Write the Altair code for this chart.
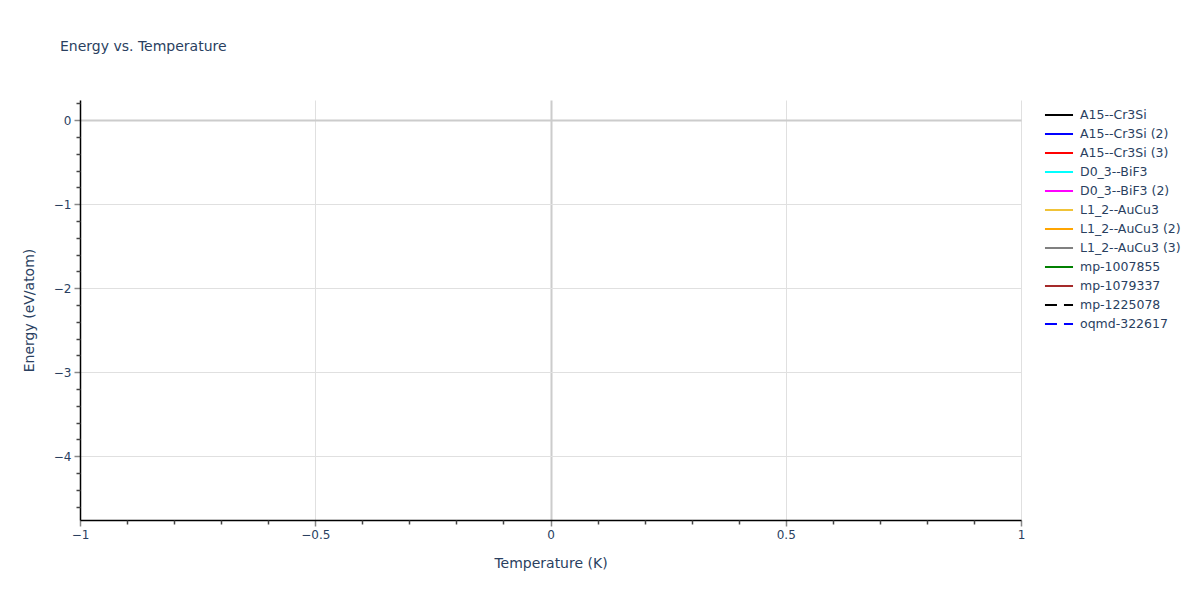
import altair as alt
import pandas as pd

series = ["A15--Cr3Si", "A15--Cr3Si (2)", "A15--Cr3Si (3)", "D0_3--BiF3", "D0_3--BiF3 (2)",
          "L1_2--AuCu3", "L1_2--AuCu3 (2)", "L1_2--AuCu3 (3)", "mp-1007855", "mp-1079337",
          "mp-1225078", "oqmd-322617"]
colors = ["black", "blue", "red", "cyan", "magenta", "#f0c338", "orange", "gray",
          "green", "brown", "black", "blue"]
dashes = [[1, 0]] * 10 + [[12, 7], [12, 7]]

# no points of any series fall inside the visible window
temperature = [None] * len(series)
energy = [None] * len(series)

x_major = [-1, -0.5, 0, 0.5, 1]
x_minor = [-0.9, -0.8, -0.7, -0.6, -0.4, -0.3, -0.2, -0.1, 0.1, 0.2, 0.3, 0.4, 0.6, 0.7, 0.8, 0.9]
y_major = [-4, -3, -2, -1, 0]
y_minor = [-4.6, -4.4, -4.2, -3.8, -3.6, -3.4, -3.2, -2.8, -2.6, -2.4, -2.2,
           -1.8, -1.6, -1.4, -1.2, -0.8, -0.6, -0.4, -0.2, 0.2]

df = pd.DataFrame({"series": series, "temperature": temperature, "energy": energy})

FONT = "DejaVu Sans"
TXT = "#2a3f5f"
xs = alt.Scale(domain=[-1, 1], nice=False, zero=False)
ys = alt.Scale(domain=[-4.76, 0.24], nice=False, zero=False)
grid_color = {"expr": "datum.value === 0 ? '#cccccc' : '#e0e0e0'"}
grid_width = {"expr": "datum.value === 0 ? 2 : 1"}

main = alt.Chart(df).mark_line(strokeWidth=2).encode(
    x=alt.X("temperature:Q", scale=xs, title="Temperature (K)",
            axis=alt.Axis(values=x_major, orient="bottom", grid=True, gridColor=grid_color,
                          gridWidth=grid_width, domainColor="black", domainWidth=1.5,
                          tickColor="#888", tickSize=6, tickWidth=1.5, labelFont=FONT,
                          labelFontSize=12, labelColor=TXT, labelPadding=3, format="~g",
                          titleFont=FONT, titleFontSize=14, titleColor=TXT,
                          titleFontWeight="normal", titlePadding=16, labelFlush=False)),
    y=alt.Y("energy:Q", scale=ys, title="Energy (eV/atom)",
            axis=alt.Axis(values=y_major, orient="left", grid=True, gridColor=grid_color,
                          gridWidth=grid_width, domainColor="black", domainWidth=1.5,
                          tickColor="#888", tickSize=6, tickWidth=1.5, labelFont=FONT,
                          labelFontSize=12, labelColor=TXT, labelPadding=3, format="~g",
                          titleFont=FONT, titleFontSize=14, titleColor=TXT,
                          titleFontWeight="normal", titlePadding=17)),
    color=alt.Color("series:N", scale=alt.Scale(domain=series, range=colors), title=None,
                    sort=series,
                    legend=alt.Legend(orient="none", legendX=969, legendY=5,
                                      symbolType="M-1.62,0H1.62", symbolSize=300,
                                      symbolStrokeWidth=2, labelFont=FONT,
                                      labelFontSize=12.5, labelColor=TXT, rowPadding=2,
                                      labelOffset=11, labelLimit=200)),
    strokeDash=alt.StrokeDash("series:N", scale=alt.Scale(domain=series, range=dashes),
                              title=None, sort=series, legend=None),
)

minor = alt.Chart(df).mark_line(opacity=0).encode(
    x=alt.X("temperature:Q", scale=xs, title=None,
            axis=alt.Axis(values=x_minor, orient="bottom", grid=False, domain=False, labels=False,
                          tickColor="#444", tickSize=4, tickWidth=1.5)),
    y=alt.Y("energy:Q", scale=ys, title=None,
            axis=alt.Axis(values=y_minor, orient="left", grid=False, domain=False, labels=False,
                          tickColor="#444", tickSize=4, tickWidth=1.5)),
)

chart = alt.layer(main, minor).resolve_axis(x="independent", y="independent").properties(
    width=941, height=420,
    title=alt.TitleParams("Energy vs. Temperature", anchor="start", frame="group", dx=-20,
                          offset=46, font=FONT, fontSize=14, fontWeight="normal", color=TXT),
    autosize=alt.AutoSizeParams(type="none"),
    padding={"left": 72, "top": 92, "right": 171, "bottom": 70},
).configure_view(stroke=None)

chart.save("out.html", embed_options={"renderer": "svg", "actions": False})
